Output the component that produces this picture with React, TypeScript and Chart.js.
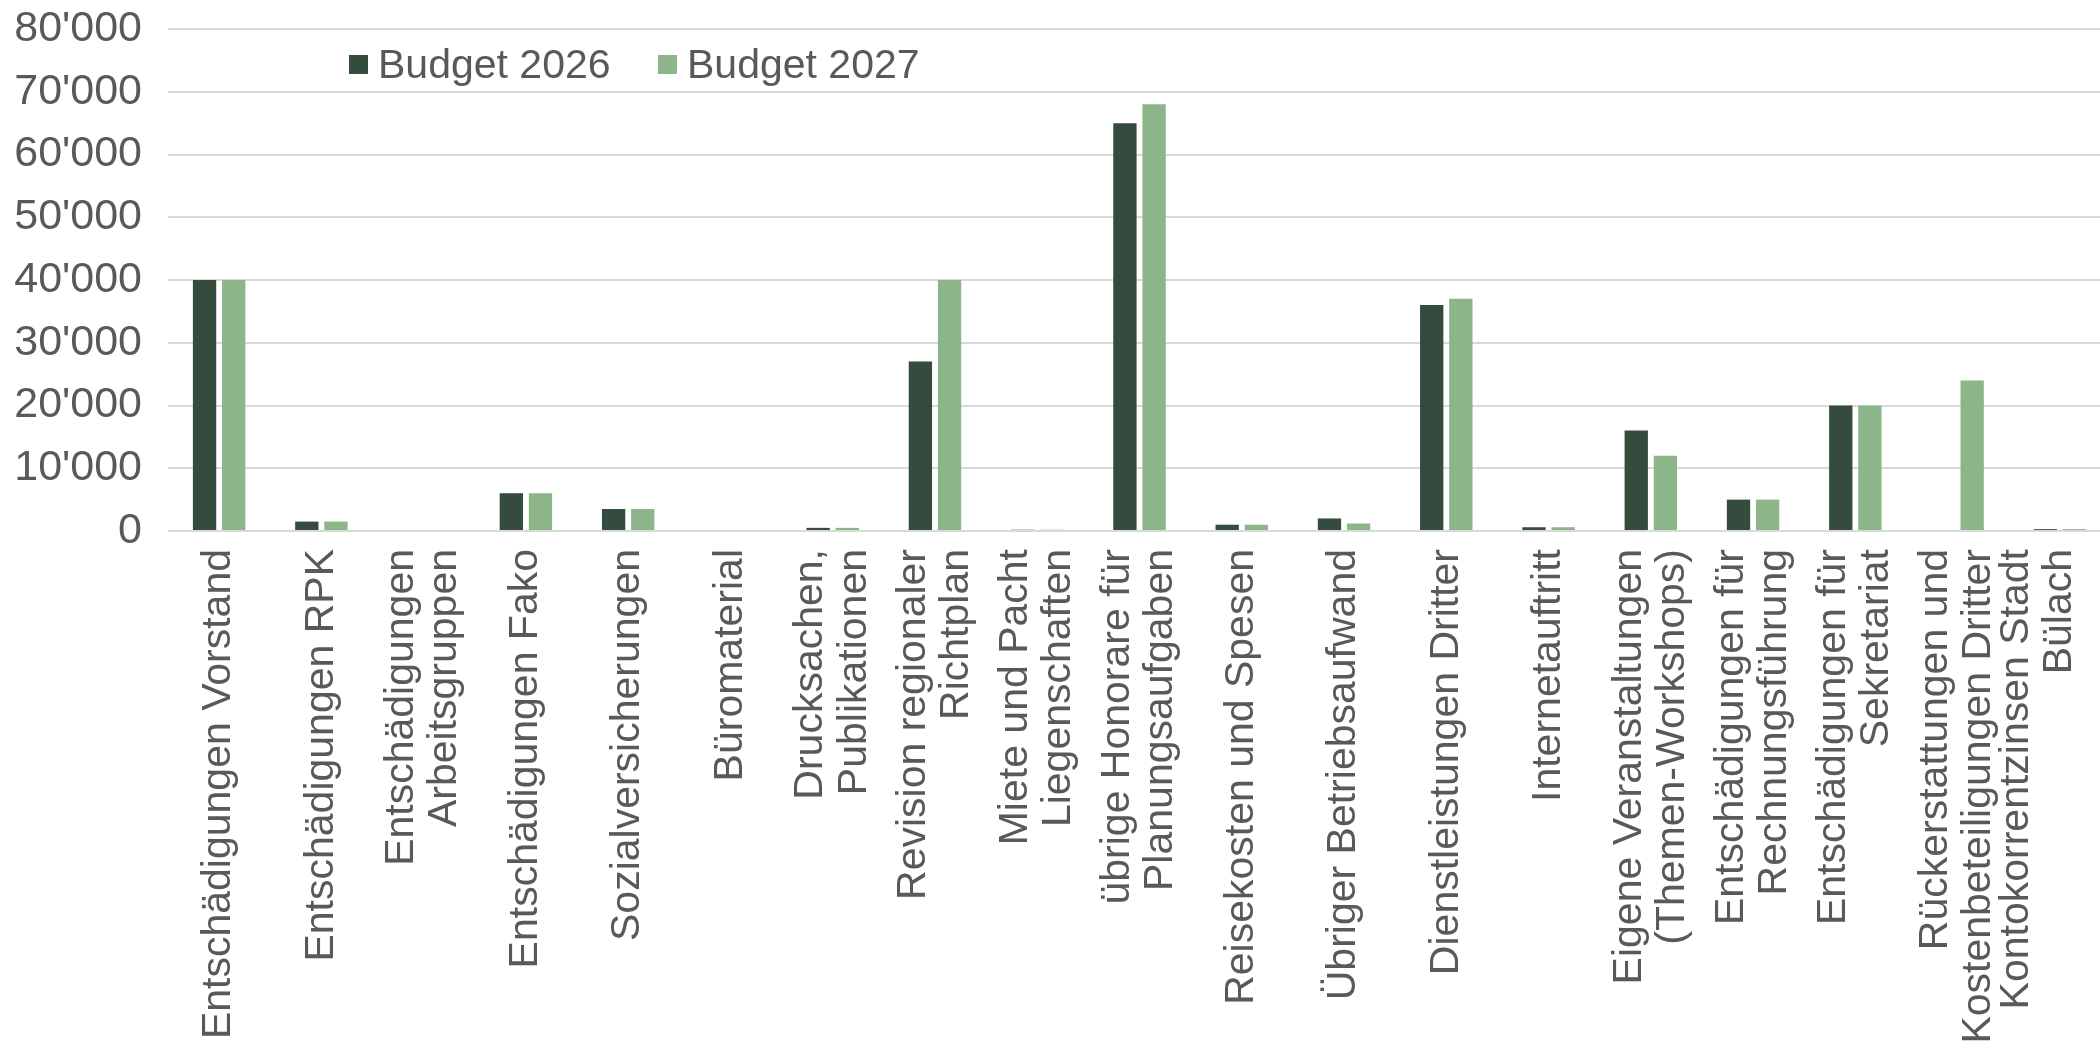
import React, { useEffect, useRef } from "react";
import { Chart, registerables } from "chart.js";

Chart.register(...registerables);

const categories: (string | string[])[] = [
  "Entschädigungen Vorstand",
  "Entschädigungen RPK",
  ["Entschädigungen", "Arbeitsgruppen"],
  "Entschädigungen Fako",
  "Sozialversicherungen",
  "Büromaterial",
  ["Drucksachen,", "Publikationen"],
  ["Revision regionaler", "Richtplan"],
  ["Miete und Pacht", "Liegenschaften"],
  ["übrige Honorare für", "Planungsaufgaben"],
  "Reisekosten und Spesen",
  "Übriger Betriebsaufwand",
  "Dienstleistungen Dritter",
  "Internetauftritt",
  ["Eigene Veranstaltungen", "(Themen-Workshops)"],
  ["Entschädigungen für", "Rechnungsführung"],
  ["Entschädigungen für", "Sekretariat"],
  ["Rückerstattungen und", "Kostenbeteiligungen Dritter"],
  ["Kontokorrentzinsen Stadt", "Bülach"],
];

const budget2026 = [40000, 1500, 0, 6000, 3500, 0, 500, 27000, 200, 65000, 1000, 2000, 36000, 600, 16000, 5000, 20000, 0, 300];
const budget2027 = [40000, 1500, 0, 6000, 3500, 0, 500, 40000, 200, 68000, 1000, 1200, 37000, 600, 12000, 5000, 20000, 24000, 300];

const seriesNames = ["Budget 2026", "Budget 2027"];
const seriesColors = ["#354B3D", "#8CB58A"];

const W = 2100;
const H = 1044;
const CW = 2111;
const FONT = "'Liberation Sans', Arial, sans-serif";
const TEXT = "#595959";
const XFONT = 41;
const XLH = 1.05;

function fmt(v: number): string {
  return String(v).replace(/\B(?=(\d{3})+(?!\d))/g, "'");
}

// Centres multi-line rotated category labels on their tick, and pulls the last one
// inward so that it stays inside the picture (as the original does).
const centreLabels = {
  id: "centreLabels",
  beforeDraw(chart: any) {
    const sc = chart.scales.x;
    if (!sc) return;
    const items = sc.getLabelItems(chart.chartArea);
    const lh = XFONT * XLH;
    items.forEach((it: any, i: number) => {
      if (!it || it._shifted) return;
      const n = Array.isArray(it.label) ? it.label.length : 1;
      let dx = -((n - 1) * lh) / 2;
      if (i === items.length - 1) dx -= 22;
      const t = it.options.translation;
      it.options = { ...it.options, translation: [t[0] + dx, t[1]] };
      it._shifted = true;
    });
  },
};

export default function App() {
  const ref = useRef<HTMLCanvasElement | null>(null);

  useEffect(() => {
    document.body.style.margin = "0";
    const canvas = ref.current;
    if (!canvas) return;
    const chart = new Chart(canvas, {
      type: "bar",
      data: {
        labels: categories,
        datasets: [
          { label: seriesNames[0], data: budget2026, backgroundColor: seriesColors[0], categoryPercentage: 0.57, barPercentage: 0.8 },
          { label: seriesNames[1], data: budget2027, backgroundColor: seriesColors[1], categoryPercentage: 0.57, barPercentage: 0.8 },
        ],
      },
      plugins: [centreLabels],
      options: {
        animation: false,
        responsive: false,
        devicePixelRatio: 1,
        layout: { padding: { top: 29, right: 0, left: 0, bottom: 0 } },
        plugins: { legend: { display: false }, tooltip: { enabled: false } },
        scales: {
          x: {
            grid: { display: false },
            border: { display: false },
            ticks: {
              autoSkip: false,
              minRotation: 90,
              maxRotation: 90,
              padding: 10,
              color: TEXT,
              font: { family: FONT, size: XFONT, lineHeight: XLH },
            },
            afterFit: (s: any) => {
              s.height = H - 531;
              s.paddingLeft = 0;
              s.paddingRight = 0;
            },
          },
          y: {
            min: 0,
            max: 80000,
            grid: { color: "#D9D9D9", lineWidth: 2, drawTicks: false },
            border: { display: false },
            ticks: {
              stepSize: 10000,
              padding: 26,
              color: TEXT,
              font: { family: FONT, size: 43 },
              callback: (v: any) => fmt(Number(v)),
            },
            afterFit: (s: any) => {
              s.width = 168;
              s.paddingTop = 0;
              s.paddingBottom = 0;
            },
          },
        },
      },
    });
    return () => chart.destroy();
  }, []);

  const legendItem = (i: number, left: number) => (
    <div
      key={i}
      style={{
        position: "absolute",
        left,
        top: 40,
        height: 48,
        display: "flex",
        alignItems: "center",
        fontFamily: FONT,
        fontSize: 41,
        color: TEXT,
        whiteSpace: "nowrap",
      }}
    >
      <span style={{ display: "inline-block", width: 19, height: 19, background: seriesColors[i], marginRight: 10 }} />
      <span>{seriesNames[i]}</span>
    </div>
  );

  return (
    <div style={{ position: "absolute", left: 0, top: 0, width: W, height: H, background: "#fff", overflow: "hidden" }}>
      <canvas ref={ref} width={CW} height={H} style={{ width: CW, height: H, display: "block" }} />
      {legendItem(0, 349)}
      {legendItem(1, 658)}
    </div>
  );
}
